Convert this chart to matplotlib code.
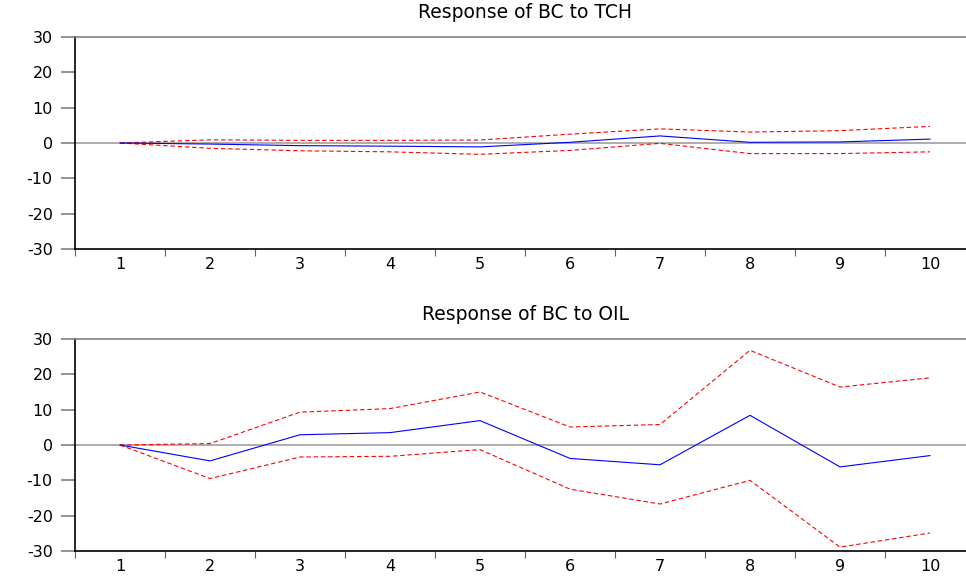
import matplotlib.pyplot as plt
import numpy as np

plt.rcParams['font.family'] = ['DejaVu Sans']
plt.rcParams['axes.unicode_minus'] = False

periods = np.arange(1, 11)

# Response of BC to TCH
tch_resp = [0, -0.3, -0.75, -0.9, -1.1, 0.2, 2.0, 0.2, 0.3, 1.1]
tch_upper = [0, 0.9, 0.75, 0.75, 0.85, 2.5, 4.0, 3.1, 3.5, 4.7]
tch_lower = [0, -1.5, -2.2, -2.5, -3.2, -2.1, -0.1, -3.0, -3.0, -2.5]

# Response of BC to OIL
oil_resp = [0, -4.5, 2.9, 3.5, 6.9, -3.8, -5.6, 8.4, -6.2, -3.0]
oil_upper = [0, 0.4, 9.3, 10.3, 15.0, 5.1, 5.8, 26.8, 16.4, 19.0]
oil_lower = [0, -9.5, -3.4, -3.2, -1.3, -12.5, -16.7, -10.0, -28.9, -24.9]

fig = plt.figure(figsize=(9.66, 5.76), dpi=100)

def panel(rect, title, resp, upper, lower):
    ax = fig.add_axes(rect)
    ax.axhline(0, color='#a0a0a0', lw=1.2, zorder=1)
    ax.plot(periods, upper, color='red', lw=0.8, dashes=(4, 2.5), zorder=2)
    ax.plot(periods, lower, color='red', lw=0.8, dashes=(4, 2.5), zorder=2)
    ax.plot(periods, resp, color='blue', lw=0.8, zorder=3)
    ax.set_xlim(0.5, 10.5)
    ax.set_ylim(-30, 30)
    ax.set_yticks([-30, -20, -10, 0, 10, 20, 30])
    ax.set_xticks(periods)
    ax.set_xticks(np.arange(0.5, 11, 1), minor=True)
    ax.tick_params(axis='x', which='major', length=0, pad=6, labelsize=11.5)
    ax.tick_params(axis='x', which='minor', length=5, color='#606060', width=0.8)
    ax.tick_params(axis='y', length=10, color='#808080', width=1.2, pad=6, labelsize=11.5)
    for s in ax.spines.values():
        s.set_linewidth(1.2)
    ax.spines['top'].set_color('#808080')
    ax.spines['right'].set_visible(False)
    ax.set_title(title, fontsize=13.5, pad=14)
    return ax

panel([75/966, 1 - 249/576, 900/966, 212/576], 'Response of BC to TCH',
      tch_resp, tch_upper, tch_lower)
panel([75/966, 25/576, 900/966, 212/576], 'Response of BC to OIL',
      oil_resp, oil_upper, oil_lower)

fig.savefig('out.png', dpi=100)
